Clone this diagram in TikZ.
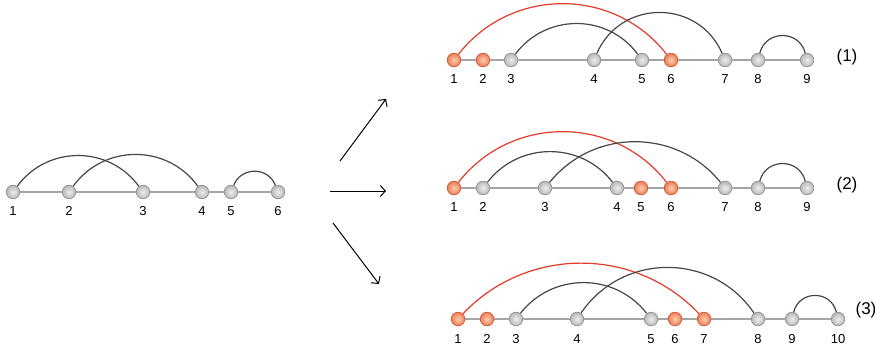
\documentclass[tikz,border=0pt]{standalone}
\usepackage{fontspec}
\setmainfont{Liberation Sans}
\usetikzlibrary{calc,arrows.meta}
\definecolor{ginner}{RGB}{238,238,238}
\definecolor{gouter}{RGB}{185,185,185}
\definecolor{gedge}{RGB}{150,150,150}
\definecolor{oinner}{RGB}{252,205,175}
\definecolor{oouter}{RGB}{238,128,88}
\definecolor{oedge}{RGB}{212,92,58}
\definecolor{arcc}{RGB}{70,70,70}
\definecolor{redc}{RGB}{228,58,40}
\definecolor{basec}{RGB}{165,165,165}
\newcommand\hump[4]{%
  \draw[#1] let \p1=(#2), \p2=(#3),
    \n1={veclen(\x2-\x1,0)},
    \n2={2*atan(2*#4/\n1)},
    \n3={1/(3*(cos(\n2/2))^2*0.3915)} in
    (#2) to[out=\n2,in=180-\n2,looseness=\n3] (#3);}
\begin{document}
\begin{tikzpicture}[x=1pt,y=-1pt,
  ball/.style={circle,minimum size=13.5pt,inner sep=0pt,line width=0.8pt},
  base/.style={draw=basec,line width=1.4pt},
  arcd/.style={draw=arcc,line width=1.2pt},
  arcr/.style={draw=redc,line width=1.2pt},
  every label/.style={font=\fontsize{13}{13}\selectfont,inner sep=0pt},
  label distance=7pt,
  tag/.style={font=\fontsize{17}{17}\selectfont,inner sep=0pt},
  arr/.style={line width=1pt,-{Straight Barb[length=5pt,width=11pt]}}]
\useasboundingbox (0,0) rectangle (889,350);
% left
\foreach \i/\x in {1/13,2/69,3/143,4/202,5/231,6/278}
  \node[ball,draw=gedge,inner color=ginner,outer color=gouter,label=below:\i] (a\i) at (\x,192) {};
\foreach \i/\j in {1/2,2/3,3/4,4/5,5/6} \draw[base] (a\i) -- (a\j);
\hump{arcd}{a1}{a3}{33}
\hump{arcd}{a2}{a4}{34}
\hump{arcd}{a5}{a6}{16}
% (1)
\foreach \i/\x/\col in {1/454/o,2/483/o,3/511/g,4/594/g,5/642/g,6/671/o,7/725/g,8/758/g,9/807/g}
  \node[ball,draw=\col edge,inner color=\col inner,outer color=\col outer,label=below:\i] (b\i) at (\x,60) {};
\foreach \i/\j in {1/2,2/3,3/4,4/5,5/6,6/7,7/8,8/9} \draw[base] (b\i) -- (b\j);
\hump{arcr}{b1}{b6}{53}
\hump{arcd}{b3}{b5}{33}
\hump{arcd}{b4}{b7}{43}
\hump{arcd}{b8}{b9}{19}
\node[tag] (t1) at (847,57) {(1)};
% (2)
\foreach \i/\x/\col in {1/454/o,2/483/g,3/545/g,4/617/g,5/641/o,6/671/o,7/725/g,8/758/g,9/807/g}
  \node[ball,draw=\col edge,inner color=\col inner,outer color=\col outer,label=below:\i] (c\i) at (\x,188) {};
\foreach \i/\j in {1/2,2/3,3/4,4/5,5/6,6/7,7/8,8/9} \draw[base] (c\i) -- (c\j);
\hump{arcr}{c1}{c6}{53}
\hump{arcd}{c2}{c4}{33}
\hump{arcd}{c3}{c7}{43}
\hump{arcd}{c8}{c9}{19}
\node[tag] (t2) at (847,185) {(2)};
% (3)
\begin{scope}[label distance=8.5pt]
\foreach \i/\x/\col in {1/458/o,2/487/o,3/516/g,4/577/g,5/651/g,6/675/o,7/704/o,8/758/g,9/792/g,10/838/g}
  \node[ball,draw=\col edge,inner color=\col inner,outer color=\col outer,label=below:\i] (d\i) at (\x,319) {};
\end{scope}
\foreach \i/\j in {1/2,2/3,3/4,4/5,5/6,6/7,7/8,8/9,9/10} \draw[base] (d\i) -- (d\j);
\hump{arcr}{d1}{d7}{53}
\hump{arcd}{d3}{d5}{33}
\hump{arcd}{d4}{d8}{48}
\hump{arcd}{d9}{d10}{18}
\node[tag] (t3) at (866,310) {(3)};
% arrows
\coordinate (us) at (340,161); \coordinate (ue) at (386,99);
\coordinate (ms) at (330,191); \coordinate (me) at (386,191);
\coordinate (ds) at (333,223); \coordinate (de) at (379,284);
\draw[arr] (us) -- (ue);
\draw[arr] (ms) -- (me);
\draw[arr] (ds) -- (de);
\end{tikzpicture}
\end{document}
